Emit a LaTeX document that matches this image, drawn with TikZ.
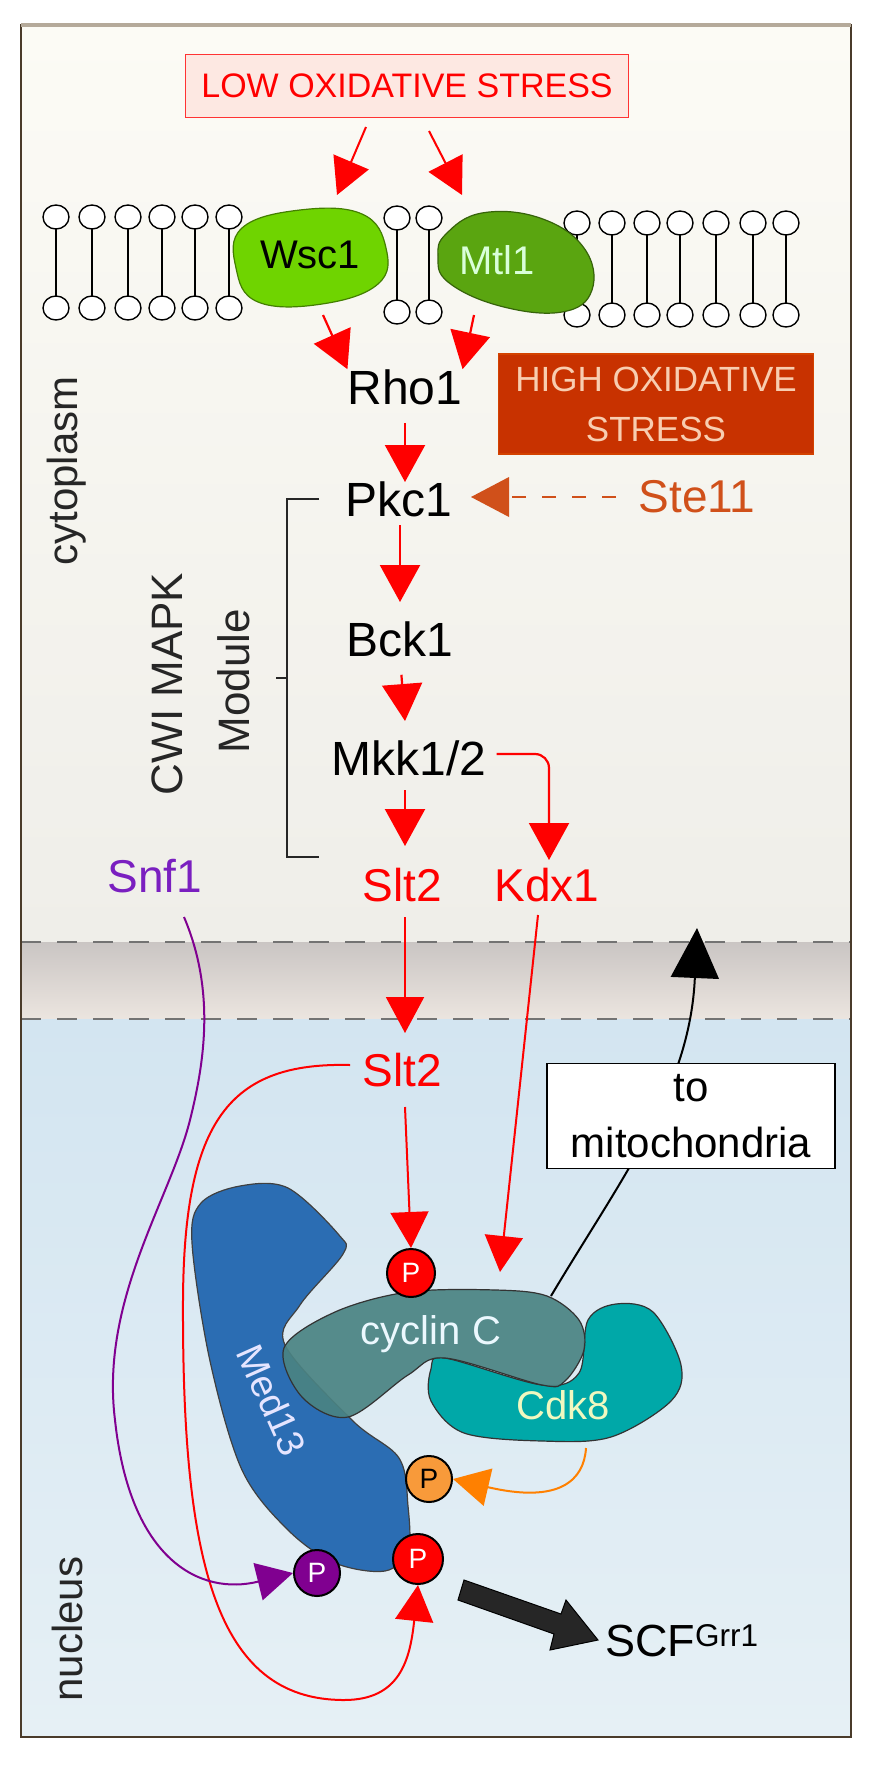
\documentclass[tikz,border=0pt]{standalone}
\usepackage{fontspec}
\setmainfont{Liberation Sans}
\usetikzlibrary{arrows.meta,shapes.geometric,calc}
\definecolor{cytTop}{HTML}{FCFBF5}
\definecolor{cytBot}{HTML}{EFEEE9}
\definecolor{bandC}{HTML}{D2CDCB}
\definecolor{nucTop}{HTML}{D3E5F1}
\definecolor{nucBot}{HTML}{E6F0F5}
\definecolor{frameC}{HTML}{4A3B2A}
\definecolor{topC}{HTML}{B5AA9A}
\definecolor{redC}{HTML}{FF0000}
\definecolor{lowFill}{HTML}{FDE8E2}
\definecolor{highFill}{HTML}{C83200}
\definecolor{highText}{HTML}{F8CDB0}
\definecolor{steC}{HTML}{D0501A}
\definecolor{snfC}{HTML}{7A1FC0}
\definecolor{purC}{HTML}{800090}
\definecolor{oraC}{HTML}{FF8000}
\definecolor{oraP}{HTML}{F89A3A}
\definecolor{wscC}{HTML}{6FD400}
\definecolor{mtlC}{HTML}{5AA510}
\definecolor{medC}{HTML}{2B6DB3}
\definecolor{cycC}{HTML}{4A8383}
\definecolor{cdkC}{HTML}{00A8A8}
\definecolor{cdkT}{HTML}{F0F8C0}
\begin{document}
\begin{tikzpicture}[x=1pt,y=-1pt,
  lbl/.style={inner sep=0pt,font=\fontsize{48}{52}\selectfont},
  rlbl/.style={lbl,text=redC,font=\fontsize{46}{50}\selectfont},
  ra/.style={draw=redC,line width=2.2pt,-{Triangle[width=40pt,length=37pt]}},
  thin ra/.style={draw=redC,line width=2pt,-{Triangle[width=38pt,length=36pt]}},
  lipid/.style={draw=black,line width=1.6pt},
  head/.style={draw=black,fill=white,line width=1.4pt},
  prot/.style={draw=black!80,line width=1.2pt},
  pc/.style={circle,draw=black,line width=2pt,minimum size=48pt,inner sep=0pt,font=\fontsize{28}{30}\selectfont},
  side/.style={inner sep=0pt,rotate=90,font=\fontsize{42}{46}\selectfont,text=black!85}
]
\useasboundingbox (0,0) rectangle (870,1770);
\fill[white] (0,0) rectangle (870,1770);
% compartments
\shade[top color=cytTop,bottom color=cytBot] (21,25) rectangle (851,942);
\shade[top color=bandC!90!gray,bottom color=bandC!80!brown!40!white] (21,942) rectangle (851,1019);
\shade[top color=nucTop,bottom color=nucBot] (21,1019) rectangle (851,1737);
\draw[black!55,line width=2pt,dash pattern=on 20pt off 16pt] (21,942) -- (851,942);
\draw[black!55,line width=2pt,dash pattern=on 20pt off 16pt] (21,1019) -- (851,1019);
\draw[frameC,line width=1.6pt] (21,25) rectangle (851,1737);
\draw[topC,line width=4pt] (21,25) -- (851,25);

% side labels
\node[side] (cyto) at (67,471) {cytoplasm};
\node[side] (nuc) at (67,1629) {nucleus};
\node[side,font=\fontsize{44}{48}\selectfont] (cwi) at (167,684) {CWI MAPK};
\node[side,font=\fontsize{44}{48}\selectfont] (mod) at (234,681) {Module};

% membrane lipids
\foreach \x in {56,92,128,162,195,229} {
  \draw[lipid] (\x,217) -- (\x,308);
  \draw[head] (\x,217) ellipse (13pt and 12pt);
  \draw[head] (\x,308) ellipse (13pt and 12pt);}
\foreach \x in {397,429} {
  \draw[lipid] (\x,218) -- (\x,312);
  \draw[head] (\x,218) ellipse (13pt and 12pt);
  \draw[head] (\x,312) ellipse (13pt and 12pt);}
\foreach \x in {577,612,647,680,716,753,786} {
  \draw[lipid] (\x,223) -- (\x,315);
  \draw[head] (\x,223) ellipse (13pt and 12pt);
  \draw[head] (\x,315) ellipse (13pt and 12pt);}

% receptors
\filldraw[fill=wscC,draw=wscC!60!black,line width=1.2pt] plot[smooth cycle,tension=0.7] coordinates {(242,228) (300,210) (362,214) (386,248) (378,284) (322,304) (258,302) (236,268)};
\node[lbl,font=\fontsize{40}{44}\selectfont] (wsc) at (310,255) {Wsc1};
\filldraw[fill=mtlC,draw=mtlC!60!black,line width=1.2pt] plot[smooth cycle,tension=0.7] coordinates {(446,234) (482,213) (540,218) (584,248) (592,290) (562,312) (500,306) (448,282) (438,256)};
\node[lbl,font=\fontsize{40}{44}\selectfont,text=white!85!green] (mtl) at (497,260) {Mtl1};

% low stress
\node[draw=redC!80,fill=lowFill,line width=1.5pt,minimum width=443pt,minimum height=63pt,inner sep=0pt,text=redC,font=\fontsize{34}{38}\selectfont] (low) at (407,86) {LOW OXIDATIVE STRESS};
\coordinate (wscIn) at (337,195);
\coordinate (mtlIn) at (462,195);
\draw[thin ra] (366,127) -- (wscIn);
\draw[thin ra] (429,131) -- (mtlIn);

% high stress
\node[fill=highFill,draw=highFill!80!orange,line width=1.5pt,minimum width=315pt,minimum height=100pt,inner sep=0pt,text=highText,align=center,font=\fontsize{35}{50}\selectfont] (high) at (656,404) {HIGH OXIDATIVE\\STRESS};

% cascade
\node[lbl] (rho) at (405,387) {Rho1};
\node[lbl] (pkc) at (399,499) {Pkc1};
\node[lbl] (bck) at (400,639) {Bck1};
\node[lbl] (mkk) at (409,758) {Mkk1/2};
\node[rlbl] (slt) at (402,885) {Slt2};
\node[rlbl] (kdx) at (547,885) {Kdx1};
\node[rlbl,text=snfC] (snf) at (155,876) {Snf1};
\node[rlbl,text=steC] (ste) at (697,497) {Ste11};

\draw[ra] (323,315) -- (rho.north west);
\draw[ra] (474,315) -- (rho.north east);
\draw[ra,shorten <=18pt] (rho.south) -- (405,482);
\draw[ra,shorten <=26pt] (400,499) -- (400,602);
\draw[ra,shorten <=18pt] (bck.south) -- (405,721);
\draw[ra,shorten <=18pt] (405,772) -- (405,846);
\draw[ra,rounded corners=14pt] (mkk.east) ++(10,-4) -| (549,860);
\draw[steC,line width=2pt,dash pattern=on 14pt off 16pt] (616,497) -- (505,497);
\fill[steC] (471,497) -- (509,477) -- (509,517) -- cycle;

% bracket
\draw[black!85,line width=1.6pt] (319,499) -- (287,499) -- (287,857) -- (319,857);
\draw[black!85,line width=1.6pt] (287,678) -- (276,678);

% nucleus proteins
\filldraw[fill=medC,draw=black!75,line width=1.2pt] plot[smooth cycle,tension=0.55] coordinates {(201,1203) (240,1186) (288,1188) (339,1235) (343,1254) (300,1305) (285,1345) (353,1421) (399,1458) (408,1506) (408,1550) (385,1571) (335,1563) (288,1530) (242,1470) (210,1361) (192,1243)};
\filldraw[fill=cdkC,draw=black!80,line width=1.2pt] plot[smooth cycle,tension=0.55] coordinates {(431,1369) (445,1358) (542,1385) (579,1373) (588,1320) (616,1304) (653,1312) (681,1365) (671,1401) (611,1437) (542,1441) (464,1433) (431,1401)};
\filldraw[fill=cycC,fill opacity=0.92,draw=black!80,line width=1.2pt] plot[smooth cycle,tension=0.55] coordinates {(284,1348) (335,1312) (408,1292) (496,1290) (547,1296) (579,1320) (584,1350) (565,1381) (542,1385) (445,1358) (408,1375) (348,1417) (302,1397)};
\node[lbl,font=\fontsize{40}{44}\selectfont,text=white!92!cyan] (cyc) at (431,1334) {cyclin C};
\node[lbl,font=\fontsize{40}{44}\selectfont,text=cdkT] (cdk) at (563,1405) {Cdk8};
\node[lbl,font=\fontsize{38}{42}\selectfont,text=white!90!blue,rotate=-66] (med) at (272,1400) {Med13};

% P circles
\node[pc,fill=redC,text=white] (p1) at (411,1273) {P};
\node[pc,fill=oraP,text=black,minimum size=46pt] (p2) at (429,1479) {P};
\node[pc,fill=redC,text=white,minimum size=50pt] (p3) at (418,1559) {P};
\node[pc,fill=purC,text=white,minimum size=46pt] (p4) at (317,1573) {P};

% nuclear Slt2
\node[rlbl] (slt2) at (402,1070) {Slt2};
\draw[thin ra] (405,917) -- (405,1033);
\draw[thin ra] (405,1107) -- (p1.north);
\draw[thin ra] (538,915) -- (500,1272);

% Slt2 loop to bottom P
\draw[thin ra] (slt2.west) ++(-12,-5) .. controls (230,1062) and (184,1120) .. (183,1300)
   .. controls (182,1560) and (215,1700) .. (344,1700)
   .. controls (400,1700) and (410,1660) .. (p3.south);

% Snf1 curve
\draw[purC,line width=2pt,-{Triangle[width=38pt,length=36pt]}] (184,917) .. controls (215,990) and (205,1060) .. (190,1120)
   .. controls (170,1200) and (100,1300) .. (115,1420)
   .. controls (130,1560) and (200,1596) .. (p4.west);

% Cdk8 to orange P
\draw[oraC,line width=2pt,-{Triangle[width=38pt,length=36pt]}] (586,1448) .. controls (584,1480) and (560,1504) .. (p2.east);

% to mitochondria
\draw[black,line width=2pt,-{Triangle[width=48pt,length=50pt]}] (551,1296) .. controls (620,1180) and (690,1090) .. (697,928);
\node[draw=black,fill=white,line width=1.6pt,minimum width=288pt,minimum height=105pt,inner sep=0pt,align=center,font=\fontsize{42}{56}\selectfont] (mito) at (691,1116) {to\\mitochondria};

% SCF
\node[lbl,anchor=base west,font=\fontsize{45}{48}\selectfont] (scf) at (605,1656) {SCF$^{\mathrm{Grr1}}$};
\draw[draw=black,fill=black!85,line width=1pt] (464,1580) -- (561,1614) -- (566,1600) -- (598,1640) -- (550,1650) -- (554,1634) -- (458,1600) -- cycle;
\end{tikzpicture}
\end{document}
